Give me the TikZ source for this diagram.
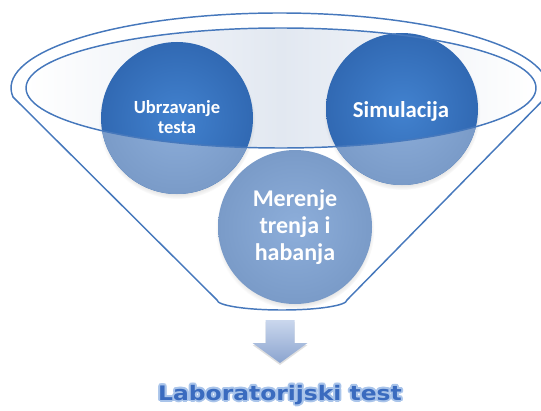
\documentclass[tikz,border=0pt]{standalone}
\usepackage{fontspec}
\setmainfont{Carlito}
\newfontfamily\naslovfont{DejaVu Sans}
\usetikzlibrary{shadows}

\definecolor{funnelline}{HTML}{4678BC}
\definecolor{darkball}{HTML}{4282CF}
\definecolor{darkballedge}{HTML}{3169B3}
\definecolor{lightball}{HTML}{8DAEDA}
\definecolor{lightballedge}{HTML}{7A9BC8}
\definecolor{rimfill}{HTML}{E2E8F1}
\definecolor{naslovblue}{HTML}{3A6BBF}
\definecolor{naslovglow}{HTML}{A9C4EA}
\definecolor{arrowtop}{HTML}{CAD7ED}
\definecolor{arrowbot}{HTML}{8BA4CF}

\newcommand{\naslovtext}{\scalebox{1.17}[1]{Laboratorijski test}}

\begin{document}
\begin{tikzpicture}[x=0.75pt, y=-0.75pt, line cap=round, line join=round,
	funnel/.style={draw=funnelline, line width=1.1pt},
	ball/.style={inner color=darkball, outer color=darkballedge},
	ballfront/.style={inner color=lightball, outer color=lightballedge},
	ballshadow/.style={circular drop shadow={shadow scale=1.03, shadow xshift=0pt,
			shadow yshift=-2pt, opacity=.45}},
	balltext/.style={text=white, align=center, anchor=base, inner sep=0pt},
	naslov/.style={font=\naslovfont\bfseries\fontsize{15}{18}\selectfont,
		anchor=base, inner sep=0pt}]
	
	\useasboundingbox (0,0) rectangle (541,410);
	\clip (0,0) rectangle (541,410);
	
	% ===== funnel mouth: faint fill inside the rim =====
	\shade[left color=white, right color=white, middle color=rimfill]
	(281,88) ellipse [x radius=255, y radius=60];
	
	% ===== the three balls =====
	\coordinate (ubr) at (177,118);
	\coordinate (sim) at (402,109);
	\coordinate (mer) at (295,227);
	
	\shade[ball, ballshadow] (ubr) circle [radius=76];
	\shade[ball, ballshadow] (sim) circle [radius=76];
	
	% parts below the rim are seen through the funnel wall
	\begin{scope}
		\clip (26,88) arc [start angle=180, end angle=0, x radius=255, y radius=60]
		-- (560,88) -- (560,420) -- (-10,420) -- (-10,88) -- cycle;
		\shade[ballfront] (ubr) circle [radius=76];
		\shade[ballfront] (sim) circle [radius=76];
	\end{scope}
	
	\shade[ballfront, ballshadow] (mer) circle [radius=77];
	
	% ===== funnel outline and rim =====
	\draw[funnel] (13,97)
	arc [start angle=173.1, end angle=366.9, x radius=268.5, y radius=75]
	-- (347,300)
	arc [start angle=0, end angle=180, x radius=65, y radius=10]
	-- cycle;
	\draw[funnel] (281,88) ellipse [x radius=255, y radius=60];
	
	% ===== labels in the balls (anchored on the last baseline) =====
	\node[balltext, font=\bfseries\fontsize{13.9}{15}\selectfont]
	(ubrtext) at (177,133) {Ubrzavanje\\testa};
	\node[balltext, font=\bfseries\fontsize{17.1}{20}\selectfont]
	(simtext) at (401,117) {Simulacija};
	\node[balltext, font=\bfseries\fontsize{18}{19.9}\selectfont]
	(mertext) at (295,260) {Merenje\\trenja i\\habanja};
	
	% ===== output arrow =====
	\shade[top color=arrowtop, bottom color=arrowbot,
	drop shadow={opacity=.25, shadow xshift=0pt, shadow yshift=-1.5pt}]
	(265.5,320) -- (294.5,320) -- (294.5,343) -- (307.5,343)
	-- (280,363) -- (252.5,343) -- (265.5,343) -- cycle;
	
	% ===== result, with a soft light-blue halo =====
	\coordinate (naslovpos) at (280,400);
	\foreach \a in {0,30,...,330}
	\node[naslov, text=naslovglow] (glow\a) at ([shift={(\a:2)}]naslovpos) {\naslovtext};
	\node[naslov, text=naslovblue] (naslov) at (naslovpos) {\naslovtext};
	
\end{tikzpicture}
\end{document}
